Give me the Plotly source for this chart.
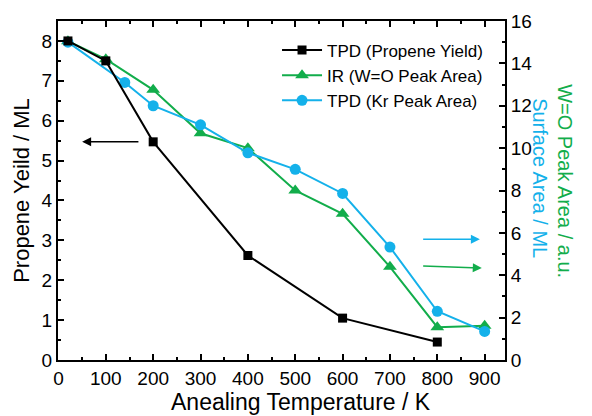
import plotly.graph_objects as go

# Annealing temperatures (K) and measured quantities
temp_propene = [20, 100, 200, 400, 600, 800]
propene_yield = [8.0, 7.5, 5.47, 2.62, 1.05, 0.45]

temp_ir = [20, 100, 200, 300, 400, 500, 600, 700, 800, 900]
wo_peak_area = [15.05, 14.2, 12.75, 10.7, 10.0, 8.0, 6.9, 4.4, 1.55, 1.62]

temp_kr = [20, 140, 200, 300, 400, 500, 600, 700, 800, 900]
kr_peak_area = [15.0, 13.1, 12.0, 11.1, 9.78, 9.0, 7.86, 5.33, 2.3, 1.35]

BLACK = "#000000"
GREEN = "#12AD4B"
BLUE = "#14B1EA"
FONT = "Liberation Sans, Arial, sans-serif"

fig = go.Figure()

fig.add_trace(go.Scatter(
    x=temp_ir, y=wo_peak_area, yaxis="y", name="IR (W=O Peak Area)",
    mode="lines+markers", line=dict(color=GREEN, width=2),
    marker=dict(symbol="triangle-up", size=12, color=GREEN), legendrank=2,
))
fig.add_trace(go.Scatter(
    x=temp_kr, y=kr_peak_area, yaxis="y", name="TPD (Kr Peak Area)",
    mode="lines+markers", line=dict(color=BLUE, width=2),
    marker=dict(symbol="circle", size=11, color=BLUE), legendrank=3,
))
fig.add_trace(go.Scatter(
    x=temp_propene, y=propene_yield, yaxis="y2", name="TPD (Propene Yield)",
    mode="lines+markers", line=dict(color=BLACK, width=2),
    marker=dict(symbol="square", size=9, color=BLACK), legendrank=1,
))

tick_common = dict(
    showline=True, linecolor="black", linewidth=2,
    ticks="inside", ticklen=6, tickwidth=1.5, tickcolor="black",
    showgrid=False, zeroline=False,
    tickfont=dict(family=FONT, size=19, color="black"),
)

fig.update_layout(
    width=592, height=416,
    margin=dict(l=58, r=87, t=21, b=56),
    paper_bgcolor="white", plot_bgcolor="white",
    font=dict(family=FONT, color="black"),
    xaxis=dict(
        range=[-1, 943], dtick=100, tick0=0, mirror="ticks",
        minor=dict(ticks="inside", ticklen=3, dtick=50, tickcolor="black", tickwidth=1.5),
        automargin=False,
        **tick_common,
    ),
    yaxis=dict(
        side="right", range=[0, 16], dtick=2,
        minor=dict(ticks="inside", ticklen=3, dtick=1, tickcolor="black", tickwidth=1.5),
        automargin=False,
        **tick_common,
    ),
    yaxis2=dict(
        side="left", overlaying="y", range=[0, 8.5], dtick=1,
        minor=dict(ticks="inside", ticklen=3, dtick=0.5, tickcolor="black", tickwidth=1.5),
        title=dict(text="Propene Yeild / ML", font=dict(family=FONT, size=22), standoff=6),
        automargin=False,
        **tick_common,
    ),
    legend=dict(
        x=0.49, y=0.966, xanchor="left", yanchor="top",
        bgcolor="rgba(0,0,0,0)", font=dict(family=FONT, size=17),
        tracegroupgap=0, itemwidth=40,
    ),
    showlegend=True,
)

# X-axis title
fig.add_annotation(x=0.544, y=-0.125, xref="paper", yref="paper", text="Anealing Temperature / K",
                   showarrow=False, xanchor="center", yanchor="middle",
                   font=dict(family=FONT, size=23, color="black"))

# Arrows pointing each curve to its axis
fig.add_annotation(x=50, y=5.47, ax=172, ay=5.47, xref="x", yref="y2", axref="x", ayref="y2",
                   text="", showarrow=True, arrowhead=2, arrowsize=1.2, arrowwidth=1.5, arrowcolor=BLACK)
fig.add_annotation(x=890, y=5.7, ax=767, ay=5.7, xref="x", yref="y", axref="x", ayref="y",
                   text="", showarrow=True, arrowhead=2, arrowsize=1.2, arrowwidth=1.5, arrowcolor=BLUE)
fig.add_annotation(x=894, y=4.34, ax=767, ay=4.44, xref="x", yref="y", axref="x", ayref="y",
                   text="", showarrow=True, arrowhead=2, arrowsize=1.2, arrowwidth=1.5, arrowcolor=GREEN)

# Right-hand axis titles, one per series
fig.add_annotation(x=1.107, y=0.537, xref="paper", yref="paper", text="Surface Area / ML",
                   textangle=90, showarrow=False, font=dict(family=FONT, size=20, color=BLUE))
fig.add_annotation(x=1.163, y=0.528, xref="paper", yref="paper", text="W=O Peak Area / a.u.",
                   textangle=90, showarrow=False, font=dict(family=FONT, size=20, color=GREEN))

fig.write_html("out.html")
